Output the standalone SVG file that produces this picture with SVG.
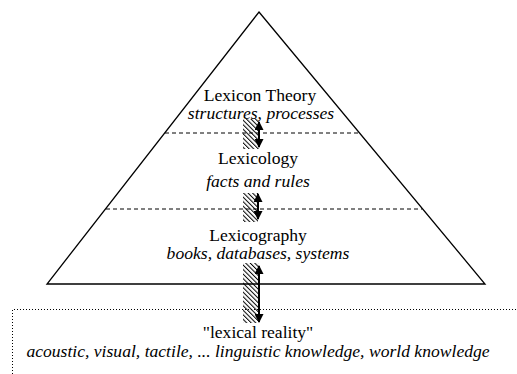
<svg xmlns="http://www.w3.org/2000/svg" width="517" height="374" viewBox="0 0 517 374">
  <style>
    .edge { fill: none; stroke: #000; stroke-width: 1.3; }
    .divider { fill: none; stroke: #000; stroke-width: 1; stroke-dasharray: 4 3; }
    .frame { fill: none; stroke: #000; stroke-width: 1; stroke-dasharray: 1 2; }
    .link { stroke: #000; stroke-width: 2; fill: none; }
    .hatch { fill: url(#hatch); stroke: none; }
    .label { fill: #000; text-anchor: middle; }
  </style>
  <defs>
    <pattern id="hatch" patternUnits="userSpaceOnUse" width="3.2" height="3.2" patternTransform="rotate(-45)">
      <rect x="0" y="0" width="1" height="3.2" fill="#000"/>
    </pattern>
    <marker id="head" viewBox="0 0 10 10" refX="9" refY="5" markerWidth="5" markerHeight="4.5" orient="auto-start-reverse" markerUnits="strokeWidth">
      <path d="M0,0 L10,5 L0,10 z" fill="#000"/>
    </marker>
  </defs>

  <!-- pyramid outline -->
  <g id="pyramid">
    <path class="edge" d="M259,12 L485,284 L47,284 Z"/>
    <line class="divider" x1="165" y1="133" x2="359" y2="133"/>
    <line class="divider" x1="106" y1="209" x2="422" y2="209"/>
  </g>

  <!-- outer frame of the lexical reality -->
  <g id="reality-frame">
    <path class="frame" d="M12.5,374 V309.5 H517"/>
  </g>

  <g font-family="Liberation Serif, Times New Roman, serif" font-size="17.6">
    <g id="lexicon-theory">
      <text class="label" x="260" y="101">Lexicon Theory</text>
      <text class="label" font-style="italic" x="261" y="118.5">structures, processes</text>
    </g>

    <g id="lexicology">
      <text class="label" x="258" y="164">Lexicology</text>
      <text class="label" font-style="italic" x="258" y="187">facts and rules</text>
    </g>

    <g id="lexicography">
      <text class="label" x="258" y="241">Lexicography</text>
      <text class="label" font-style="italic" x="258" y="259">books, databases, systems</text>
    </g>

    <g id="lexical-reality">
      <text class="label" x="258" y="338">"lexical reality"</text>
      <text class="label" font-style="italic" x="258" y="357">acoustic, visual, tactile, ... linguistic knowledge, world knowledge</text>
    </g>
  </g>

  <!-- two-way links between the levels -->
  <g id="connectors">
    <rect class="hatch" x="243" y="119" width="16" height="30"/>
    <line class="link" x1="259" y1="122" x2="259" y2="147" marker-start="url(#head)" marker-end="url(#head)"/>
    <rect class="hatch" x="243" y="193" width="15" height="29"/>
    <line class="link" x1="258" y1="194" x2="258" y2="219" marker-start="url(#head)" marker-end="url(#head)"/>
    <rect class="hatch" x="243" y="263" width="16" height="60"/>
    <line class="link" x1="259" y1="266" x2="259" y2="322" marker-start="url(#head)" marker-end="url(#head)"/>
  </g>
</svg>
